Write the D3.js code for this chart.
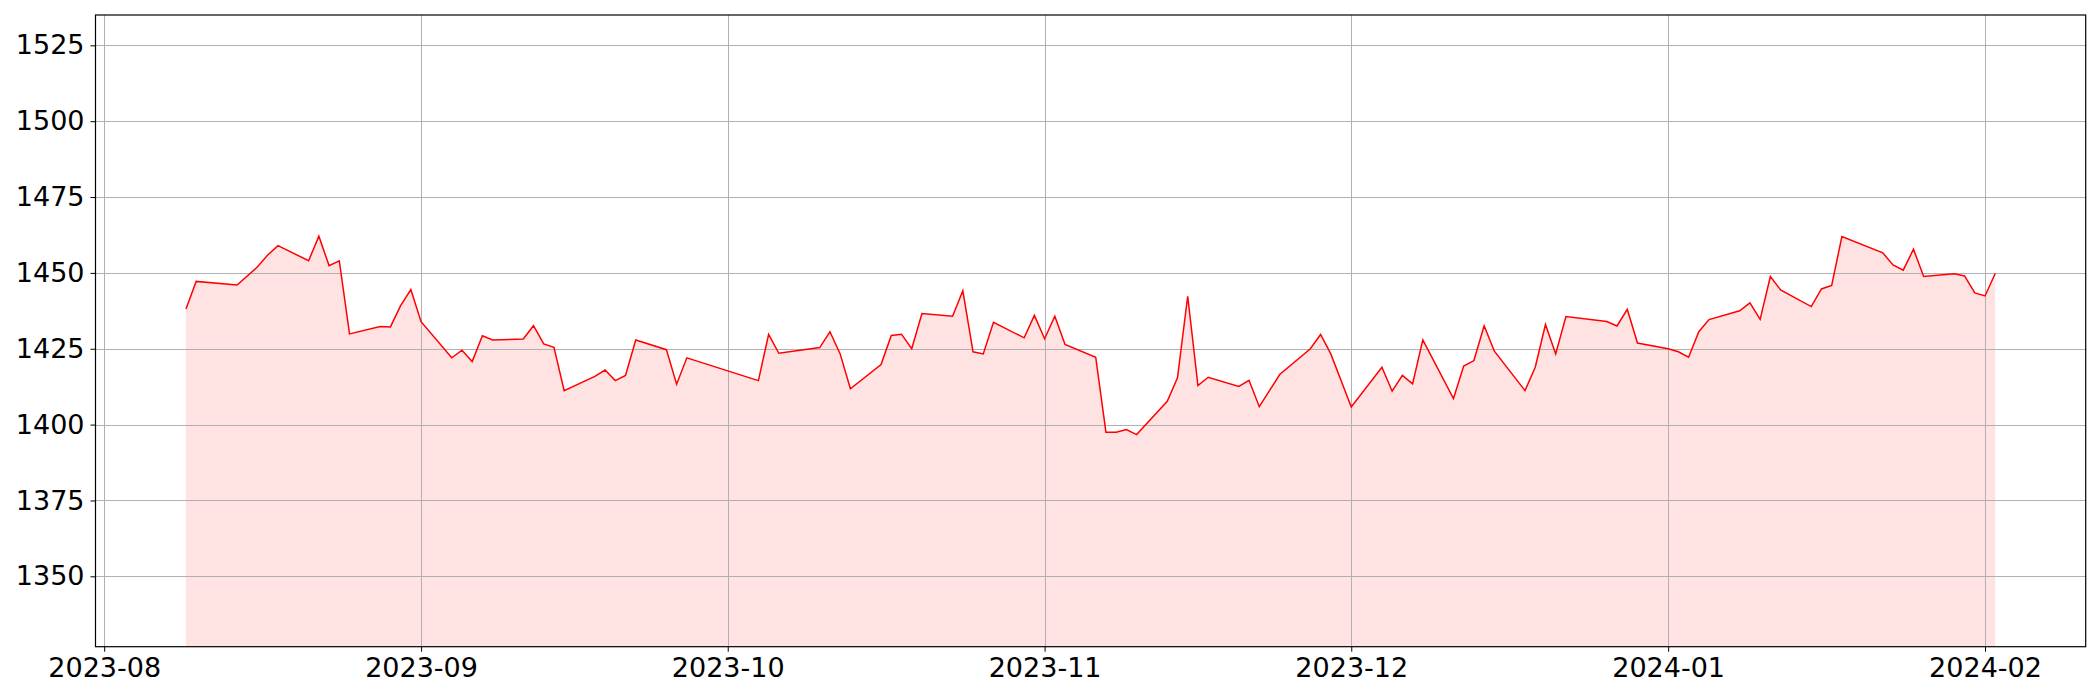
<!DOCTYPE html>
<html>
<head>
<meta charset="utf-8">
<script src="https://cdn.jsdelivr.net/npm/d3@7"></script>
<style>
  html, body { margin: 0; padding: 0; background: #fff; }
  svg { display: block; }
  .tick text { font-family: "DejaVu Sans", sans-serif; }
</style>
</head>
<body>
<svg id="chart" width="2100" height="700"></svg>
<script>
const dates = [
  "2023-08-09","2023-08-10","2023-08-14","2023-08-16","2023-08-17","2023-08-18",
  "2023-08-21","2023-08-22","2023-08-23","2023-08-24","2023-08-25",
  "2023-08-28","2023-08-29","2023-08-30","2023-08-31","2023-09-01",
  "2023-09-04","2023-09-05","2023-09-06","2023-09-07","2023-09-08",
  "2023-09-11","2023-09-12","2023-09-13","2023-09-14","2023-09-15",
  "2023-09-18","2023-09-19","2023-09-20","2023-09-21","2023-09-22",
  "2023-09-25","2023-09-26","2023-09-27",
  "2023-10-04","2023-10-05","2023-10-06",
  "2023-10-10","2023-10-11","2023-10-12","2023-10-13",
  "2023-10-16","2023-10-17","2023-10-18","2023-10-19","2023-10-20",
  "2023-10-23","2023-10-24","2023-10-25","2023-10-26","2023-10-27",
  "2023-10-30","2023-10-31","2023-11-01","2023-11-02","2023-11-03",
  "2023-11-06","2023-11-07","2023-11-08","2023-11-09","2023-11-10",
  "2023-11-13","2023-11-14","2023-11-15","2023-11-16","2023-11-17",
  "2023-11-20","2023-11-21","2023-11-22","2023-11-24",
  "2023-11-27","2023-11-28","2023-11-29","2023-12-01",
  "2023-12-04","2023-12-05","2023-12-06","2023-12-07","2023-12-08",
  "2023-12-11","2023-12-12","2023-12-13","2023-12-14","2023-12-15",
  "2023-12-18","2023-12-19","2023-12-20","2023-12-21","2023-12-22",
  "2023-12-26","2023-12-27","2023-12-28","2023-12-29",
  "2024-01-01","2024-01-02","2024-01-03","2024-01-04","2024-01-05",
  "2024-01-08","2024-01-09","2024-01-10","2024-01-11","2024-01-12",
  "2024-01-15","2024-01-16","2024-01-17","2024-01-18",
  "2024-01-22","2024-01-23","2024-01-24","2024-01-25","2024-01-26",
  "2024-01-29","2024-01-30","2024-01-31","2024-02-01","2024-02-02"
];
const values = [
  1438.1,1447.2,1446.0,1452.0,1455.9,1459.0,
  1454.0,1462.1,1452.4,1454.0,1429.9,
  1432.3,1432.2,1439.2,1444.5,1433.9,
  1422.0,1424.5,1420.8,1429.3,1427.9,
  1428.2,1432.6,1426.6,1425.5,1411.2,
  1415.9,1418.0,1414.5,1416.2,1427.9,
  1424.7,1413.3,1422.0,
  1414.5,1429.7,1423.5,
  1425.4,1430.6,1423.3,1411.8,
  1419.8,1429.4,1429.8,1425.0,1436.6,
  1435.7,1444.1,1424.0,1423.3,1433.7,
  1428.6,1436.0,1428.3,1435.7,1426.4,
  1422.2,1397.5,1397.5,1398.4,1396.7,
  1407.7,1415.4,1442.3,1412.9,1415.6,
  1412.6,1414.6,1405.9,1416.5,
  1425.0,1429.7,1423.3,1405.8,
  1418.9,1411.0,1416.2,1413.4,1427.9,
  1408.6,1419.3,1421.1,1432.6,1424.2,
  1411.2,1418.9,1433.0,1423.3,1435.6,
  1434.0,1432.5,1438.0,1426.9,
  1425.0,1424.0,1422.2,1430.6,1434.6,
  1437.5,1440.1,1434.7,1448.8,1444.4,
  1438.9,1444.7,1445.9,1462.0,
  1456.6,1452.6,1450.9,1457.8,1448.8,
  1449.7,1449.0,1443.4,1442.4,1449.8
];
const yTicks = [1350, 1375, 1400, 1425, 1450, 1475, 1500, 1525];
const yDomain = [1326.8, 1535];

const parse = d3.utcParse("%Y-%m-%d");
const data = dates.map((d, i) => ({ date: parse(d), value: values[i] }));

const margin = { left: 95.5, right: 2100 - 2085.7, top: 15, bottom: 700 - 646.7 };
const W = 2100, H = 700;
const svg = d3.select("#chart");

const ext = d3.extent(data, d => d.date);
const span = ext[1] - ext[0];
const x = d3.scaleUtc()
  .domain([new Date(+ext[0] - 0.05 * span), new Date(+ext[1] + 0.05 * span)])
  .range([margin.left, W - margin.right]);
const y = d3.scaleLinear().domain(yDomain).range([H - margin.bottom, margin.top]);

const clipId = "plotclip";
svg.append("defs").append("clipPath").attr("id", clipId)
  .append("rect")
  .attr("x", margin.left).attr("y", margin.top)
  .attr("width", W - margin.left - margin.right)
  .attr("height", H - margin.top - margin.bottom);

const plot = svg.append("g").attr("clip-path", `url(#${clipId})`);

// fill
const area = d3.area()
  .x(d => x(d.date))
  .y0(H - margin.bottom + 5)
  .y1(d => y(d.value));
plot.append("path").datum(data)
  .attr("d", area)
  .attr("fill", "red")
  .attr("fill-opacity", 0.11)
  .attr("stroke", "none");

// grid
const monthTicks = d3.utcMonth.range(d3.utcMonth.ceil(x.domain()[0]), x.domain()[1]);
plot.append("g").selectAll("line").data(monthTicks).join("line")
  .attr("x1", d => Math.round(x(d)) + 0.5).attr("x2", d => Math.round(x(d)) + 0.5)
  .attr("y1", margin.top).attr("y2", H - margin.bottom)
  .attr("stroke", "#b0b0b0").attr("stroke-width", 1);
plot.append("g").selectAll("line").data(yTicks).join("line")
  .attr("y1", d => Math.round(y(d)) + 0.5).attr("y2", d => Math.round(y(d)) + 0.5)
  .attr("x1", margin.left).attr("x2", W - margin.right)
  .attr("stroke", "#b0b0b0").attr("stroke-width", 1);

// line
const line = d3.line().x(d => x(d.date)).y(d => y(d.value));
plot.append("path").datum(data)
  .attr("d", line)
  .attr("fill", "none")
  .attr("stroke", "red")
  .attr("stroke-width", 1.5)
  .attr("stroke-linejoin", "miter");

// axes
const xAxis = d3.axisBottom(x).tickValues(monthTicks)
  .tickFormat(d3.utcFormat("%Y-%m")).tickSize(5).tickPadding(6);
const gx = svg.append("g").attr("transform", `translate(0,${H - margin.bottom})`).call(xAxis);
gx.select(".domain").remove();
gx.selectAll(".tick text").attr("font-size", 27).attr("fill", "#000");
gx.selectAll(".tick line").attr("stroke", "#000").attr("stroke-width", 1);

const yAxis = d3.axisLeft(y).tickValues(yTicks).tickFormat(d3.format("d")).tickSize(5).tickPadding(6);
const gy = svg.append("g").attr("transform", `translate(${margin.left},0)`).call(yAxis);
gy.select(".domain").remove();
gy.selectAll(".tick text").attr("font-size", 27).attr("fill", "#000");
gy.selectAll(".tick line").attr("stroke", "#000").attr("stroke-width", 1);

// frame
svg.append("rect")
  .attr("x", margin.left).attr("y", margin.top)
  .attr("width", W - margin.left - margin.right)
  .attr("height", H - margin.top - margin.bottom)
  .attr("fill", "none").attr("stroke", "#000").attr("stroke-width", 1.2);
</script>
</body>
</html>
